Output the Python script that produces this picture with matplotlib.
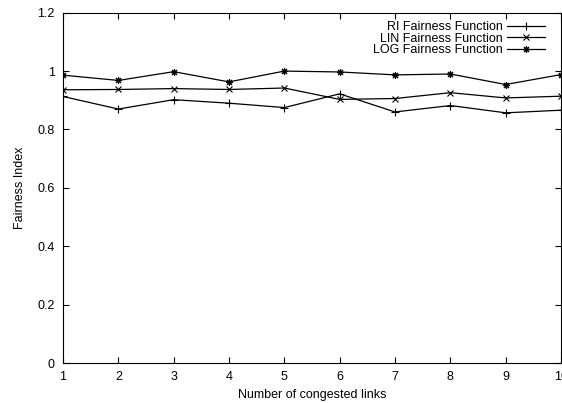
import matplotlib
matplotlib.use("Agg")
import matplotlib.pyplot as plt
from matplotlib.ticker import FuncFormatter

links = [1, 2, 3, 4, 5, 6, 7, 8, 9, 10]
ri = [0.913, 0.870, 0.902, 0.890, 0.875, 0.922, 0.860, 0.882, 0.857, 0.866]
lin = [0.936, 0.937, 0.940, 0.937, 0.942, 0.903, 0.906, 0.926, 0.908, 0.914]
log = [0.986, 0.968, 0.998, 0.963, 1.000, 0.997, 0.987, 0.990, 0.954, 0.988]
labels = ["RI Fairness Function", "LIN Fairness Function", "LOG Fairness Function"]

plt.rcParams['font.family'] = ['Liberation Sans', 'DejaVu Sans']
fig = plt.figure(figsize=(5.62, 4.03), dpi=100)
ax = fig.add_axes([63/562, 1 - 363/403, (561 - 63)/562, (363 - 12.7)/403])

lw = 0.9
ax.plot(links, ri, color='black', lw=lw, marker='+', ms=5.5, mew=0.8, label=labels[0])
ax.plot(links, lin, color='black', lw=lw, marker='x', ms=3.8, mew=0.8, label=labels[1])
ax.plot(links, log, color='black', lw=lw, marker=(8, 2, 0), ms=5, mew=0.8, label=labels[2])

ax.set_xlim(1, 10)
ax.set_ylim(0, 1.2)
ax.set_xticks(links)
ax.set_yticks([0, 0.2, 0.4, 0.6, 0.8, 1.0, 1.2])
ax.yaxis.set_major_formatter(FuncFormatter(lambda v, p: ('%g' % round(v, 2))))
ax.tick_params(direction='in', top=True, right=True, length=4, width=0.8, labelsize=9, pad=6)
for s in ax.spines.values():
    s.set_linewidth(0.8)

ax.set_xlabel("Number of congested links", fontsize=9, labelpad=4)
ax.set_ylabel("Fairness Index", fontsize=9, labelpad=8)

leg = ax.legend(loc='upper right', frameon=False, markerfirst=False, fontsize=9,
                handlelength=3.1, labelspacing=-0.05, borderaxespad=0.3, handletextpad=0.3,
                bbox_to_anchor=(0.986, 1.0))
for t in leg.get_texts():
    t.set_ha('right')

fig.savefig("out.png", dpi=100)
